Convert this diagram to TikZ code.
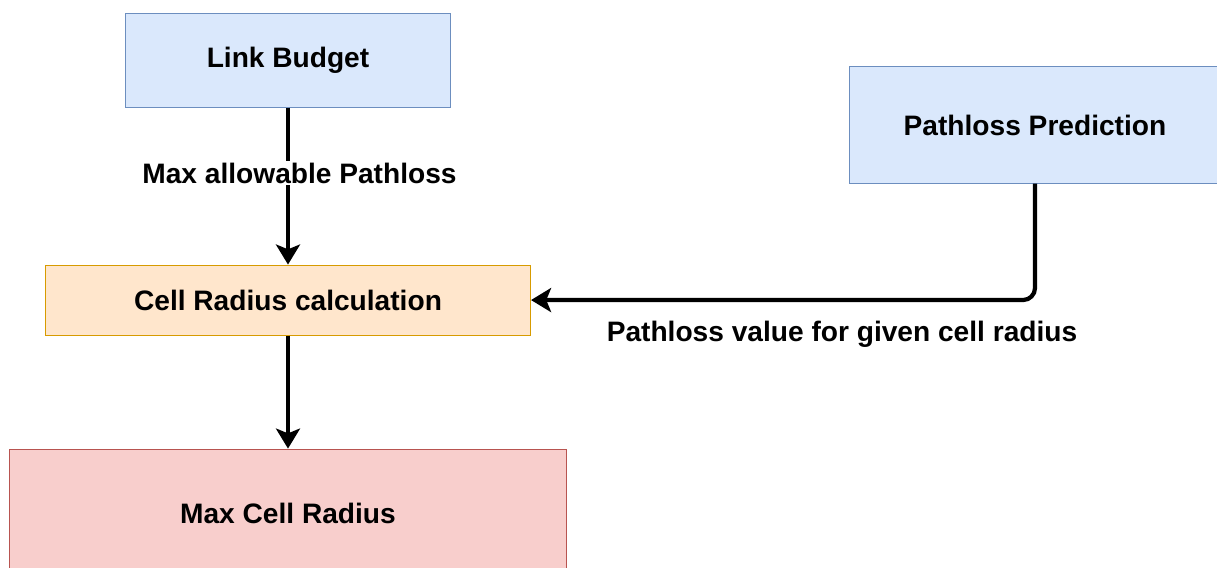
\documentclass[tikz,border=0pt]{standalone}
\usepackage{fontspec}
\setmainfont{Liberation Sans}
\usetikzlibrary{positioning}
\usetikzlibrary{arrows.meta}

\definecolor{bluefill}{HTML}{DAE8FC}
\definecolor{blueline}{HTML}{6C8EBF}
\definecolor{orangefill}{HTML}{FFE6CC}
\definecolor{orangeline}{HTML}{D79B00}
\definecolor{redfill}{HTML}{F8CECC}
\definecolor{redline}{HTML}{B85450}

\tikzset{
    box/.style = {draw, line width = 0.7pt, text centered, font = \fontsize{20}{24}\selectfont\bfseries},
    lbl/.style = {fill = white, inner sep = 1pt, text centered, font = \fontsize{20}{24}\selectfont\bfseries},
    flow/.style = {-{Stealth[length = 0.5cm, width = 0.6cm, inset = 0.12cm]}, line width = 3pt}
}

\begin{document}
\begin{tikzpicture}[x = 0.025cm, y = -0.025cm]
    \useasboundingbox (0,0) rectangle (1217,567);
    \clip (0,0) rectangle (1217,567);
    % nodes %
    \node[box, fill = bluefill, draw = blueline, minimum width = 8.1cm, minimum height = 2.325cm] (budget) at (288,60.5) {Link Budget};
    \node[box, fill = orangefill, draw = orangeline, minimum width = 12.125cm, minimum height = 1.75cm, below = 3.925cm of budget] (calc) {Cell Radius calculation};
    \node[box, fill = redfill, draw = redline, minimum width = 13.9cm, minimum height = 3.2cm, below = 2.825cm of calc] (maxrad) {Max Cell Radius};
    \node[box, fill = bluefill, draw = blueline, minimum width = 9.25cm, minimum height = 2.9cm] (predict) at (1035,125) {Pathloss Prediction};
    % edges %
    \draw[flow] (budget) -- (calc);
    \draw[flow] (calc) -- (maxrad);
    \draw[flow, rounded corners = 0.3cm] (predict.south) |- (calc.east);
    % labels %
    \node[lbl] (allow) at (299.5,173) {Max allowable Pathloss};
    \node[lbl] (given) at (842,334) {Pathloss value for given cell radius};
\end{tikzpicture}
\end{document}
